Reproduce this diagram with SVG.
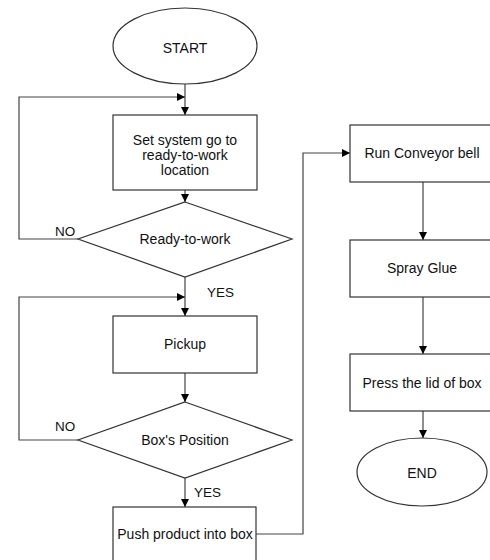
<svg xmlns="http://www.w3.org/2000/svg" width="490" height="560" viewBox="0 0 490 560">
<style>
.shape{fill:#fff;stroke:#333;stroke-width:1.2}
.line{fill:none;stroke:#444;stroke-width:1.2}
.t{font-family:"Liberation Sans",Arial,sans-serif;font-size:14px;fill:#111;text-anchor:middle;dominant-baseline:central}
.lbl{font-family:"Liberation Sans",Arial,sans-serif;font-size:13.5px;fill:#111;dominant-baseline:central}
</style>
<defs>
<marker id="arr" viewBox="0 0 10 10" refX="10" refY="5" markerWidth="8" markerHeight="8" markerUnits="userSpaceOnUse" orient="auto">
<path d="M0,0 L10,5 L0,10 z" fill="#000"/>
</marker>
</defs>
<rect width="490" height="560" fill="#fff"/>
<g id="connectors">
<path class="line" d="M185,84 V115" marker-end="url(#arr)"/>
<path class="line" d="M78,239 H19 V97 H185" marker-end="url(#arr)"/>
<path class="line" d="M185,190 V202" marker-end="url(#arr)"/>
<path class="line" d="M185,277 V316" marker-end="url(#arr)"/>
<path class="line" d="M78,440 H19 V297 H185" marker-end="url(#arr)"/>
<path class="line" d="M185,373 V402" marker-end="url(#arr)"/>
<path class="line" d="M185,478 V507" marker-end="url(#arr)"/>
<path class="line" d="M256,534 H303 V153 H350" marker-end="url(#arr)"/>
<path class="line" d="M423,182 V240" marker-end="url(#arr)"/>
<path class="line" d="M423,297 V354" marker-end="url(#arr)"/>
<path class="line" d="M423,411 V438" marker-end="url(#arr)"/>
<text class="lbl" x="55" y="231">NO</text>
<text class="lbl" x="207" y="292">YES</text>
<text class="lbl" x="55" y="426">NO</text>
<text class="lbl" x="194" y="492">YES</text>
</g>
<g id="start">
<ellipse class="shape" cx="185" cy="46" rx="72" ry="38"/>
<text class="t" x="185" y="48">START</text>
</g>
<g id="setSystem">
<rect class="shape" x="113" y="115" width="144" height="75"/>
<text class="t" x="185" y="140">Set system go to</text>
<text class="t" x="185" y="155">ready-to-work</text>
<text class="t" x="185" y="170">location</text>
</g>
<g id="readyToWork">
<polygon class="shape" points="185,202 292,239 185,277 78,239"/>
<text class="t" x="185" y="239">Ready-to-work</text>
</g>
<g id="pickup">
<rect class="shape" x="113" y="316" width="144" height="57"/>
<text class="t" x="185" y="344">Pickup</text>
</g>
<g id="boxPosition">
<polygon class="shape" points="185,402 292,440 185,478 78,440"/>
<text class="t" x="185" y="440">Box's Position</text>
</g>
<g id="pushProduct">
<rect class="shape" x="113" y="507" width="143" height="60"/>
<text class="t" x="185" y="534">Push product into box</text>
</g>
<g id="runConveyor">
<rect class="shape" x="350" y="125" width="144" height="57"/>
<text class="t" x="422" y="153">Run Conveyor bell</text>
</g>
<g id="sprayGlue">
<rect class="shape" x="350" y="240" width="144" height="57"/>
<text class="t" x="422" y="268">Spray Glue</text>
</g>
<g id="pressLid">
<rect class="shape" x="350" y="354" width="144" height="57"/>
<text class="t" x="422" y="383">Press the lid of box</text>
</g>
<g id="end">
<ellipse class="shape" cx="422" cy="472" rx="65" ry="34"/>
<text class="t" x="422" y="473">END</text>
</g>
</svg>
